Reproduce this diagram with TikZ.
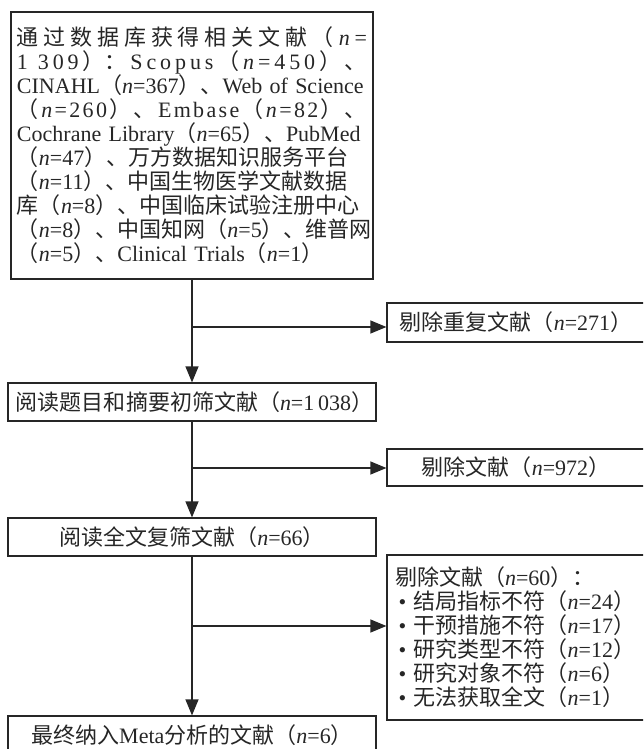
\documentclass[tikz,border=0pt]{standalone}
\usepackage{fontspec}
\setmainfont{Liberation Serif}
\newfontfamily\cjk{Noto Sans CJK SC}
\usetikzlibrary{arrows.meta}
\newcommand{\zh}[1]{{\cjk #1}}
\newcommand{\nvar}{\textit{n}}
\newcommand{\ncount}[1]{\zh{（}\nvar=#1\zh{）}}
\newlength{\srcwidth}
\setlength{\srcwidth}{175pt}
% spaced-out line / plain justified line of the source box
\newcommand{\jline}[1]{\makebox[\srcwidth][s]{\spaceskip=0pt plus 1fil\relax #1}}
\newcommand{\pline}[1]{\makebox[\srcwidth][s]{#1}}

\begin{document}
\begin{tikzpicture}[->,>={Triangle[length=8pt,width=6.5pt]}, x=0.5pt, y=-0.5pt, line width=0.6pt, color=black!85]
			\tikzstyle{box}=[draw,rectangle,inner xsep=5pt,inner ysep=0pt,
			font=\fontsize{11pt}{12pt}\selectfont]

			\useasboundingbox (0,0) rectangle (643,749);
			\clip (0,0) rectangle (643,749);

			\begin{scope}
				% main column
				\node[box,text width=\srcwidth,inner xsep=3pt,minimum height=133.5pt,align=left] (0) at (192,145.5)
				{\jline{\zh{通 过 数 据 库 获 得 相 关 文 献 （} \nvar{} =}\\
				\jline{1 \kern3pt 3 0 9 \zh{）：} S c o p u s \zh{（} \nvar{} = 4 5 0 \zh{）} \zh{、}}\\
				\pline{CINAHL\ncount{367}\zh{、}Web of Science}\\
				\jline{\zh{（} \nvar{} = 2 6 0 \zh{）} \zh{、} E m b a s e \zh{（} \nvar{} = 8 2 \zh{）} \zh{、}}\\
				\pline{Cochrane Library\ncount{65}\zh{、}PubMed}\\
				\pline{\ncount{47}\zh{、万方数据知识服务平台}}\\
				\pline{\ncount{11}\zh{、中国生物医学文献数据}}\\
				\pline{\zh{库}\ncount{8}\zh{、中国临床试验注册中心}}\\
				\pline{\ncount{8}\zh{、中国知网}\ncount{5}\zh{、维普网}}\\
				\makebox[\srcwidth][l]{\ncount{5}\zh{、}Clinical Trials\ncount{1}}};
				\node[box,text width=176pt,inner xsep=4pt,minimum height=19pt,align=left] (1) at (192,402)
				{\zh{阅读题目和摘要初筛文献（}\nvar=1\,038\zh{）}};
				\node[box,minimum width=184pt,minimum height=19pt] (2) at (192,537)
				{\zh{阅读全文复筛文献}\ncount{66}};
				\node[box,minimum width=184pt,minimum height=19pt] (3) at (192,735)
				{\zh{最终纳入}Meta\zh{分析的文献}\ncount{6}};

				% excluded records
				\node[box,minimum width=129pt,minimum height=19.5pt] (x1) at (516,322.5)
				{\zh{剔除重复文献}\ncount{271}};
				\node[box,minimum width=129pt,minimum height=18.5pt] (x2) at (516,467.5)
				{\zh{剔除文献}\ncount{972}};
				\node[box,text width=121pt,inner xsep=4pt,minimum height=82.5pt,align=left] (x3) at (516,637.5)
				{\zh{剔除文献}\ncount{60}\zh{：}\\
				\,\textbullet\ \zh{结局指标不符}\ncount{24}\\
				\,\textbullet\ \zh{干预措施不符}\ncount{17}\\
				\,\textbullet\ \zh{研究类型不符}\ncount{12}\\
				\,\textbullet\ \zh{研究对象不符}\ncount{6}\\
				\,\textbullet\ \zh{无法获取全文}\ncount{1}};

				\coordinate (j1) at (192,327);
				\coordinate (j2) at (192,468);
				\coordinate (j3) at (192,626);

				\draw (0.south) -- (1.north); \draw (j1) -- (j1 -| x1.west);
				\draw (1.south) -- (2.north); \draw (j2) -- (j2 -| x2.west);
				\draw (2.south) -- (3.north); \draw (j3) -- (j3 -| x3.west);
			\end{scope}
		\end{tikzpicture}
\end{document}
